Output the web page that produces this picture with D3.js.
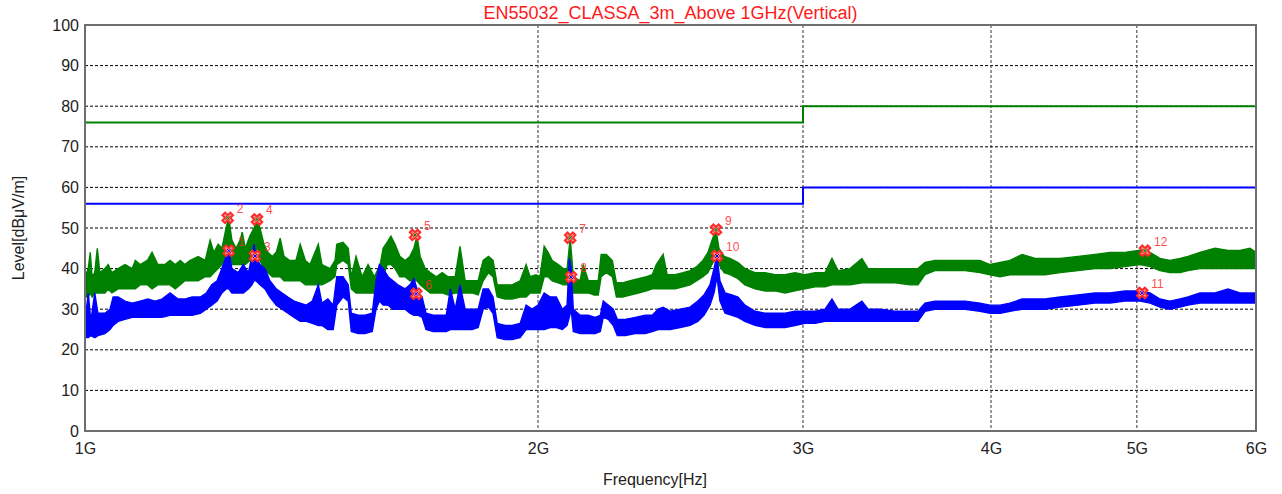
<!DOCTYPE html>
<html><head><meta charset="utf-8">
<script src="https://cdn.jsdelivr.net/npm/d3@7"></script>
<style>
body{margin:0;background:#fff;}
text{font-family:"Liberation Sans",Arial,sans-serif;}
</style></head>
<body><svg id="c" width="1282" height="494"></svg>
<script>
// ---------- data ----------
const title = "EN55032_CLASSA_3m_Above 1GHz(Vertical)";
const xTickValues = [1000, 2000, 3000, 4000, 5000, 6000]; // MHz
const xTickLabels = ["1G", "2G", "3G", "4G", "5G", "6G"];
const yTickValues = [0, 10, 20, 30, 40, 50, 60, 70, 80, 90, 100];

// limit lines (MHz, dBuV/m)
const limitFreq = [1000, 3000, 3000, 6000];
const limitPeak = [76, 76, 80, 80];
const limitAvg = [56, 56, 60, 60];

// Peak trace (green): frequency MHz, low and high envelope of the sweep
const pkFreq = [1000,1005,1008,1011,1015,1019,1023,1031,1036,1042,1052,1063,1075,1080,1088,1100,1108,1118,1130,1139,1148,1157,1165,1174,1189,1202,1211,1218,1226,1233,1241,1246,1252,1260,1268,1272,1278,1287,1295,1301,1307,1315,1323,1332,1340,1348,1356,1368,1381,1390,1401,1411,1429,1437,1455,1466,1470,1484,1496,1503,1514,1528,1542,1557,1571,1578,1588,1597,1607,1619,1632,1644,1654,1662,1670,1683,1696,1712,1727,1743,1762,1775,1789,1808,1825,1839,1854,1867,1879,1902,1922,1946,1964,1976,1994,2006,2019,2031,2044,2063,2079,2091,2101,2111,2133,2143,2160,2180,2193,2203,2220,2241,2255,2276,2303,2332,2361,2382,2397,2422,2437,2467,2497,2524,2550,2574,2594,2610,2626,2638,2659,2683,2716,2745,2788,2831,2874,2919,2963,3009,3056,3103,3136,3165,3224,3283,3314,3375,3453,3534,3577,3616,3671,3756,3844,3933,3994,4056,4118,4195,4279,4345,4446,4570,4690,4799,4910,5024,5102,5180,5260,5341,5407,5507,5635,5748,5855,5945,6000];
const pkLo = [33,33,34,33,34,34,34,34,35,34,35,35,35,35,36,36,35,36,36,36,35,36,37,37,37,38,38,39,40,41,42,43,41,41,41,41,41,42,43,43,42,40,39,38,38,38,37,37,37,37,36,36,36,36,37,38,41,42,41,35,34,34,34,34,34,38,41,41,40,38,38,37,37,37,36,35,34,34,34,33.5,34,34,34,34,33.5,37,39,38,33,32.5,32.5,33,33,34,34,34,38,38,37,36.5,36,36,36,34,34,34,34,33.5,33.5,38,39,38,33,33,33.5,34,34.5,35,35,35,35,35,35.5,36,37,38,39,41,43,41,39,38.5,37.5,36,35,34.5,34.5,34,34.5,35,35.5,35.5,36,36,36,36.5,36.5,36.5,36.5,36,36,38.5,39.5,39.5,39.5,39,38.5,38,38.5,38.5,38.5,38.5,39,39.5,40,40,40.5,41,40.5,39.5,39,39,39.5,40,40,40,40,40,40];
const pkHi = [38,40,44,38,39,45,39,40,41,39,40,41,40,42,41,42,44,41,41,42,41,42,41,42,43,42,47,44,46,45,50,52.5,47,45,47,49,45,48,50,52,50,46,44,43,44,47.5,43,42,42,46,42,41,46,41,40,42,46,46.5,45,38,43,38,41,38,41,45,46.5,48,46,43,42,43,45,48,43,40,39,38,39,38,38,45.5,37,37,37,42,43,42,36,36,36,37,41,38,38.5,38,45.5,44,42,41,40,40,47.5,38,37,41,37,37,37,43.5,43.5,42,36.5,36.5,37,37.5,38,38.5,41,43.5,38.5,38.5,39,39.5,40.5,42,44,47,49.5,45,43,42.5,41.5,40,39,39,38.5,38.5,39,38.5,39,39,42.5,39.5,40,42.5,40,40,40,40,40,41.5,42,42,42,42,41,41.5,42,43.5,42.5,42.5,42.5,43,43.5,44,44,44.5,44,42.5,42,42.5,43,44,45,44.5,44.5,45,44];

// Average trace (blue)
const avFreq = [1000,1005,1009,1015,1020,1031,1039,1044,1052,1063,1075,1088,1101,1113,1125,1139,1153,1165,1178,1193,1204,1214,1224,1233,1241,1246,1252,1264,1274,1284,1291,1295,1299,1307,1317,1327,1340,1352,1364,1377,1390,1403,1416,1429,1437,1450,1462,1470,1484,1496,1503,1519,1535,1552,1561,1569,1578,1590,1602,1614,1632,1644,1654,1665,1675,1685,1704,1722,1738,1749,1762,1775,1789,1808,1825,1839,1854,1867,1879,1902,1922,1946,1964,1982,2000,2019,2038,2057,2076,2091,2098,2104,2111,2133,2160,2183,2200,2210,2227,2244,2258,2286,2321,2357,2382,2404,2422,2448,2486,2524,2554,2578,2602,2618,2630,2642,2663,2691,2716,2745,2788,2831,2874,2919,2963,3009,3056,3103,3136,3165,3224,3283,3314,3375,3453,3534,3577,3616,3671,3756,3844,3933,3994,4056,4118,4195,4279,4345,4446,4570,4690,4799,4910,5024,5102,5180,5260,5341,5407,5507,5635,5748,5855,6000];
const avLo = [23,23,23.5,23,23.5,24,25,26,27,27.5,28,28,28,28,28,28.5,28.5,28.5,28.5,29,30,31,32,34,35,35,34,34,34,35,36,37,37,36,35,33,31,30,29,28,27,27,26.5,26,26,25,25,31,33,32,24.5,24,24,24.5,30,32,31,31,30,30,30,29,28.5,28.5,28,25,24.5,24.5,24.5,25,25,25,25,25,25.5,30,30.5,29,23,22.5,22.5,23,25,25,25,25,25.5,25.5,25,26,28,30,24.5,24,24,24,24.5,28,27.5,26,23.5,23.5,24,24,24.5,25,25,25,25.5,26,27,28.5,31,34,38,32,29,28.5,28,27,26,25.5,25.5,25.5,26,26.5,26.5,27,27,27,27,27,27,27,27,27,27,29.5,30,30,30,29.5,29,29,29.5,30,30,30,30.5,31,31.5,31.5,32,32,31.5,30.5,30,30.5,31,31.5,31.5,31.5,31.5,31.5];
const avHi = [27,34,27,34,29,29,30,33,33,32,31.5,32,32.5,32,32.5,34,32.5,32.5,33,33,34,36,37,40,43,44.4,40,39,41,39,43,46,43,41,40,37,35,34,33,32,31.5,31,32,36,31.5,32.5,31,38,38,36,29,28.5,28.5,29,37,41,40,38,37,36,35,36,37.5,34,33,29,28.5,28.5,28.5,35,30,36,30,30,30,35,35,33,26.5,26,26,26.5,31,30,31,34,33,33,30,31,42.5,40,30,28.5,28.5,28,28.5,32,31,30,27.5,27.5,28,28.5,28.5,30,30.5,29.5,30,30.5,32,33.5,36,40,43.2,37,34,33.5,33,31,29.5,29,29,29,29.5,29.5,29.5,30,32.5,30,30,32,30,30,29.5,29.5,29.5,31.5,32,32,32,31.5,31,31,31.5,32.5,32.5,32.5,33,33.5,34,34,34.5,34.5,34,32.5,32,32.5,33,34,34,35,34,34];

// markers: number, frequency (MHz), level (dBuV/m), detector
const markerNo = [1, 2, 3, 4, 5, 6, 7, 8, 9, 10, 11, 12];
const markerFreq = [1246, 1244, 1297, 1301, 1657, 1660, 2101, 2104, 2626, 2630, 5041, 5063];
const markerLevel = [44.4, 52.5, 43.1, 52.1, 48.3, 33.8, 47.6, 37.9, 49.6, 43.1, 34.0, 44.4];
const markerDet = ["AV","PK","AV","PK","PK","AV","PK","AV","PK","AV","AV","PK"];

// ---------- drawing ----------
const mLeft = 85, mRight = 1256, mTop = 25, mBottom = 431;
const svg = d3.select("#c");
const x = d3.scaleLog().domain([1000, 6000]).range([mLeft, mRight]);
const y = d3.scaleLinear().domain([0, 100]).range([mBottom, mTop]);

const GREEN = "#008000", BLUE = "#0000ff", RED = "#ff2a2a";

// grid
const grid = svg.append("g");
grid.selectAll("line.h").data(yTickValues.filter(v => v > 0 && v < 100)).join("line")
  .attr("x1", mLeft).attr("x2", mRight).attr("y1", d => y(d)).attr("y2", d => y(d))
  .attr("stroke", "#000").attr("stroke-width", 1).attr("stroke-dasharray", "3,2");
grid.selectAll("line.v").data(xTickValues.filter(v => v > 1000 && v < 6000)).join("line")
  .attr("x1", d => x(d)).attr("x2", d => x(d)).attr("y1", mTop).attr("y2", mBottom)
  .attr("stroke", "#333").attr("stroke-width", 1).attr("stroke-dasharray", "3,2");

// axes (labels only)
const yAxis = svg.append("g").attr("transform", `translate(${mLeft},0)`)
  .call(d3.axisLeft(y).tickValues(yTickValues).tickSize(0).tickPadding(6));
yAxis.select(".domain").remove();
yAxis.selectAll("text").attr("font-size", 16).attr("fill", "#222")
  .attr("font-family", "Liberation Sans, Arial, sans-serif");

const xAxis = svg.append("g").attr("transform", `translate(0,${mBottom})`)
  .call(d3.axisBottom(x).tickValues(xTickValues).tickFormat((d, i) => xTickLabels[i]).tickSize(0).tickPadding(12));
xAxis.select(".domain").remove();
xAxis.selectAll("text").attr("font-size", 16).attr("fill", "#222")
  .attr("font-family", "Liberation Sans, Arial, sans-serif");

// limit lines
const limLine = (vals) => d3.line().x((d, i) => x(limitFreq[i])).y((d) => y(d))(vals);
svg.append("path").attr("d", limLine(limitPeak)).attr("fill", "none").attr("stroke", GREEN).attr("stroke-width", 2);
svg.append("path").attr("d", limLine(limitAvg)).attr("fill", "none").attr("stroke", BLUE).attr("stroke-width", 2);

// traces
function band(freq, lo, hi, color) {
  const n = Math.min(freq.length, lo.length, hi.length);
  const idx = d3.range(n);
  const area = d3.area().x(i => x(freq[i])).y0(i => y(lo[i])).y1(i => y(hi[i]));
  svg.append("path").attr("d", area(idx)).attr("fill", color)
    .attr("stroke", color).attr("stroke-width", 1.4).attr("stroke-linejoin", "miter");
}
band(pkFreq, pkLo, pkHi, GREEN);
band(avFreq, avLo, avHi, BLUE);

// frame
svg.append("rect").attr("x", mLeft).attr("y", mTop).attr("width", mRight - mLeft).attr("height", mBottom - mTop)
  .attr("fill", "none").attr("stroke", "#6e6e6e").attr("stroke-width", 2);

// markers
const mk = svg.append("g");
markerNo.forEach((n, i) => {
  const cx = x(markerFreq[i]), cy = y(markerLevel[i]);
  const g = mk.append("g").attr("transform", `translate(${cx},${cy})`);
  g.append("path").attr("d", d3.symbol().type(d3.symbolCross).size(70)())
    .attr("transform", "rotate(45)").attr("fill", "#ff9a9a").attr("stroke", RED).attr("stroke-width", 2);
  g.append("path").attr("d", "M-2,-2L2,2M-2,2L2,-2")
    .attr("stroke", markerDet[i] === "PK" ? GREEN : BLUE).attr("stroke-width", 1);
  mk.append("text").attr("x", cx + 9).attr("y", cy - 5).attr("font-size", 12)
    .attr("fill", RED).attr("fill-opacity", 0.85).text(n);
});

// titles
svg.append("text").attr("x", (mLeft + mRight) / 2).attr("y", 19).attr("text-anchor", "middle")
  .attr("font-size", 18).attr("fill", "#ff1a1a").text(title);
svg.append("text").attr("x", 655).attr("y", 485).attr("text-anchor", "middle")
  .attr("font-size", 16).attr("fill", "#222").text("Frequency[Hz]");
svg.append("text").attr("transform", "translate(24,228) rotate(-90)").attr("text-anchor", "middle")
  .attr("font-size", 16).attr("fill", "#222").text("Level[dBμV/m]");
</script>
</body></html>
